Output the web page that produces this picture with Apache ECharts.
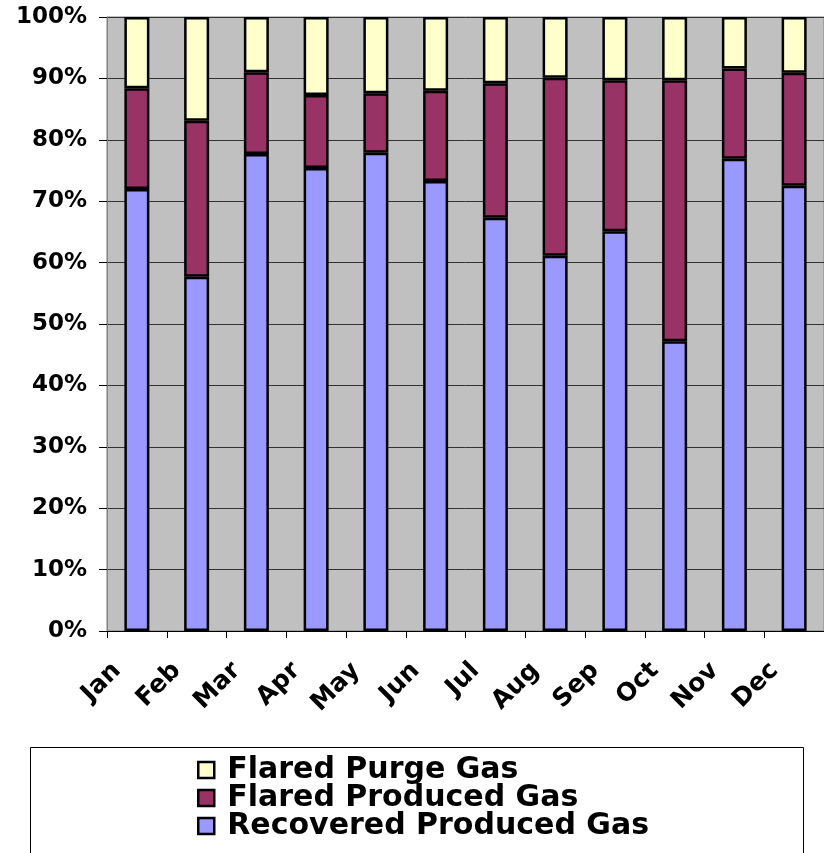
<!DOCTYPE html>
<html>
<head>
<meta charset="utf-8">
<script src="https://cdn.jsdelivr.net/npm/echarts@6/dist/echarts.min.js"></script>
<style>
html, body { margin: 0; padding: 0; background: #fff; }
#chart { width: 824px; height: 853px; }
</style>
</head>
<body>
<div id="chart"></div>
<script>
var months = ['Jan', 'Feb', 'Mar', 'Apr', 'May', 'Jun', 'Jul', 'Aug', 'Sep', 'Oct', 'Nov', 'Dec'];
// shares in percent, bottom to top of each stack
var recovered = [72.0, 57.7, 77.7, 75.4, 77.9, 73.3, 67.3, 61.1, 65.1, 47.2, 76.9, 72.5];
var flaredProduced = [16.4, 25.4, 13.3, 11.9, 9.7, 14.7, 21.9, 29.0, 24.6, 42.5, 14.7, 18.4];
var flaredPurge = [11.6, 16.9, 9.0, 12.7, 12.4, 12.0, 10.8, 9.9, 10.3, 10.3, 8.4, 9.1];
var legendNames = ['Flared Purge Gas', 'Flared Produced Gas', 'Recovered Produced Gas'];

var font = 'DejaVu Sans';
var chart = echarts.init(document.getElementById('chart'));

function barSeries(name, data, color) {
    return {
        name: name,
        type: 'bar',
        stack: 'total',
        data: data,
        barWidth: 25,
        itemStyle: {
            color: color,
            borderColor: '#000',
            borderWidth: 2.5
        }
    };
}

var option = {
    animation: false,
    grid: {
        left: 107,
        top: 17,
        width: 720,
        bottom: 222,
        show: true,
        backgroundColor: '#C0C0C0',
        borderColor: '#808080',
        borderWidth: 1
    },
    xAxis: {
        type: 'category',
        data: months,
        axisLine: { lineStyle: { color: '#000', width: 1 } },
        axisTick: { show: true, length: 7, lineStyle: { color: '#000' } },
        axisLabel: {
            rotate: 45,
            interval: 0,
            margin: 16,
            padding: [0, 28, 0, 0],
            color: '#000',
            fontFamily: font,
            fontWeight: 'bold',
            fontSize: 25
        }
    },
    yAxis: {
        type: 'value',
        min: 0,
        max: 100,
        interval: 10,
        axisLine: { show: true, lineStyle: { color: '#808080' } },
        axisTick: { show: true, length: 8, lineStyle: { color: '#000' } },
        splitLine: { lineStyle: { color: '#333', width: 1 } },
        axisLabel: {
            formatter: '{value}%',
            margin: 20,
            color: '#000',
            fontFamily: font,
            fontWeight: 'bold',
            fontSize: 23
        }
    },
    legend: {
        orient: 'vertical',
        left: 197,
        top: 755,
        padding: 0,
        itemGap: -2,
        itemWidth: 16,
        itemHeight: 16,
        icon: 'rect',
        data: legendNames,
        selectedMode: false,
        itemStyle: { borderColor: '#000', borderWidth: 2.5 },
        textStyle: {
            color: '#000',
            fontFamily: font,
            fontWeight: 'bold',
            fontSize: 30,
            lineHeight: 28,
            padding: [0, 0, 0, 8]
        }
    },
    graphic: [{
        type: 'rect',
        z: -1,
        shape: { x: 30.5, y: 747.5, width: 773, height: 130 },
        style: { fill: '#fff', stroke: '#000', lineWidth: 1 }
    }],
    series: [
        barSeries('Recovered Produced Gas', recovered, '#9999FF'),
        barSeries('Flared Produced Gas', flaredProduced, '#993366'),
        barSeries('Flared Purge Gas', flaredPurge, '#FFFFCC')
    ]
};
chart.setOption(option);
</script>
</body>
</html>
